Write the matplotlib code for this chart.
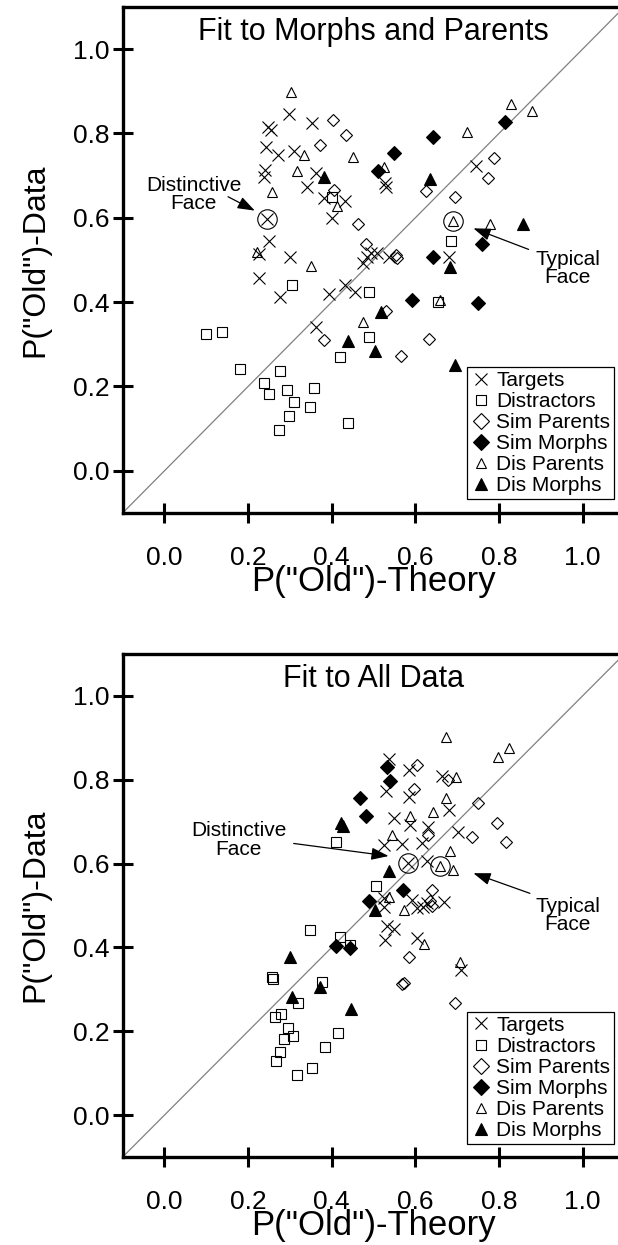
import matplotlib
matplotlib.use('Agg')
import matplotlib.pyplot as plt
from matplotlib.lines import Line2D

plt.rcParams['font.family'] = ['Liberation Sans', 'DejaVu Sans']

categories = ['Targets', 'Distractors', 'Sim Parents', 'Sim Morphs', 'Dis Parents', 'Dis Morphs']

# ---- Fit to Morphs and Parents ----
top_targets_x = [0.298, 0.247, 0.255, 0.353, 0.244, 0.271, 0.309, 0.240, 0.237, 0.362, 0.340,
                 0.382, 0.431, 0.400, 0.245, 0.251, 0.227, 0.300, 0.474, 0.227, 0.527, 0.529,
                 0.744, 0.681, 0.277, 0.394, 0.431, 0.456, 0.362, 0.485, 0.494, 0.509, 0.538]
top_targets_y = [0.845, 0.816, 0.808, 0.824, 0.767, 0.750, 0.758, 0.713, 0.696, 0.707, 0.674,
                 0.646, 0.640, 0.600, 0.596, 0.545, 0.514, 0.506, 0.492, 0.457, 0.682, 0.674,
                 0.723, 0.506, 0.413, 0.419, 0.441, 0.423, 0.342, 0.508, 0.516, 0.516, 0.508]
top_distract_x = [0.400, 0.686, 0.304, 0.490, 0.100, 0.138, 0.490, 0.420, 0.181, 0.277,
                  0.239, 0.249, 0.293, 0.357, 0.310, 0.348, 0.297, 0.275, 0.440, 0.654]
top_distract_y = [0.650, 0.545, 0.441, 0.423, 0.325, 0.329, 0.318, 0.269, 0.242, 0.237,
                  0.208, 0.182, 0.192, 0.197, 0.164, 0.152, 0.131, 0.097, 0.114, 0.401]
top_simpar_x = [0.402, 0.435, 0.372, 0.406, 0.464, 0.482, 0.788, 0.774, 0.625, 0.694,
                0.553, 0.555, 0.381, 0.529, 0.633, 0.565]
top_simpar_y = [0.833, 0.796, 0.773, 0.666, 0.585, 0.537, 0.741, 0.694, 0.663, 0.650,
                0.512, 0.504, 0.310, 0.380, 0.313, 0.273]
top_simmor_x = [0.814, 0.643, 0.548, 0.510, 0.760, 0.643, 0.591, 0.750]
top_simmor_y = [0.828, 0.791, 0.754, 0.712, 0.537, 0.508, 0.404, 0.397]
top_dispar_x = [0.303, 0.333, 0.450, 0.316, 0.256, 0.412, 0.221, 0.350, 0.828, 0.878,
                0.723, 0.524, 0.689, 0.778, 0.474, 0.659]
top_dispar_y = [0.899, 0.750, 0.745, 0.712, 0.662, 0.629, 0.520, 0.486, 0.871, 0.853,
                0.804, 0.721, 0.592, 0.585, 0.354, 0.405]
top_dismor_x = [0.381, 0.634, 0.858, 0.683, 0.440, 0.519, 0.503, 0.695]
top_dismor_y = [0.697, 0.692, 0.585, 0.483, 0.308, 0.376, 0.283, 0.251]

# ---- Fit to All Data ----
bot_targets_x = [0.537, 0.584, 0.530, 0.586, 0.548, 0.588, 0.663, 0.681, 0.631, 0.703,
                 0.526, 0.569, 0.582, 0.524, 0.525, 0.592, 0.604, 0.627, 0.533, 0.548,
                 0.528, 0.604, 0.615, 0.627, 0.669, 0.619, 0.709]
bot_targets_y = [0.850, 0.823, 0.772, 0.760, 0.708, 0.692, 0.809, 0.728, 0.688, 0.676,
                 0.644, 0.647, 0.601, 0.517, 0.496, 0.513, 0.493, 0.505, 0.451, 0.443,
                 0.418, 0.422, 0.648, 0.605, 0.509, 0.497, 0.346]
bot_distract_x = [0.411, 0.506, 0.347, 0.421, 0.444, 0.258, 0.260, 0.377, 0.319, 0.279,
                  0.265, 0.415, 0.296, 0.307, 0.287, 0.383, 0.277, 0.267, 0.353, 0.317]
bot_distract_y = [0.652, 0.547, 0.442, 0.424, 0.406, 0.329, 0.324, 0.318, 0.268, 0.241,
                  0.235, 0.196, 0.207, 0.189, 0.181, 0.163, 0.151, 0.129, 0.113, 0.095]
bot_simpar_x = [0.604, 0.596, 0.678, 0.751, 0.795, 0.631, 0.735, 0.817, 0.641, 0.635,
                0.639, 0.584, 0.568, 0.572, 0.695]
bot_simpar_y = [0.835, 0.777, 0.800, 0.744, 0.696, 0.668, 0.664, 0.651, 0.537, 0.511,
                0.499, 0.378, 0.312, 0.316, 0.267]
bot_simmor_x = [0.533, 0.540, 0.468, 0.482, 0.570, 0.488, 0.411, 0.444]
bot_simmor_y = [0.830, 0.796, 0.757, 0.714, 0.537, 0.511, 0.403, 0.398]
bot_dispar_x = [0.673, 0.798, 0.824, 0.697, 0.673, 0.642, 0.588, 0.545, 0.536, 0.572,
                0.683, 0.659, 0.691, 0.620, 0.707]
bot_dispar_y = [0.903, 0.855, 0.875, 0.806, 0.756, 0.724, 0.714, 0.668, 0.521, 0.489,
                0.630, 0.594, 0.585, 0.408, 0.365]
bot_dismor_x = [0.423, 0.428, 0.536, 0.504, 0.300, 0.371, 0.304, 0.446]
bot_dismor_y = [0.696, 0.690, 0.583, 0.489, 0.376, 0.306, 0.282, 0.252]

# highlighted faces: (distinctive, typical)
top_special_x = [0.245, 0.689]
top_special_y = [0.596, 0.592]
bot_special_x = [0.582, 0.659]
bot_special_y = [0.601, 0.594]

ticks = [0.0, 0.2, 0.4, 0.6, 0.8, 1.0]
tick_labels = ['0.0', '0.2', '0.4', '0.6', '0.8', '1.0']

# marker, face colour, size in plot, size in legend
styles = [('x', 'none', 9.0, 8.0),
          ('s', 'none', 6.5, 7.0),
          ('D', 'none', 6.2, 8.5),
          ('D', 'black', 6.8, 8.5),
          ('^', 'none', 7.5, 7.5),
          ('^', 'black', 8.2, 8.0)]


def draw_panel(ax, xs, ys, title, sx, sy, notes):
    ax.set_xlim(-0.1, 1.1)
    ax.set_ylim(-0.1, 1.1)
    ax.plot([-0.1, 1.1], [-0.1, 1.1], color='#808080', lw=0.9, zorder=1)

    for (mk, fc, ms, _), x, y in zip(styles, xs, ys):
        ax.plot(x, y, ls='none', marker=mk, mfc=fc, mec='black', color='black',
                ms=ms, mew=0.8, zorder=3)
    ax.plot(sx, sy, ls='none', marker='o', mfc='none', mec='black', ms=14, mew=0.8, zorder=3)

    for sp in ax.spines.values():
        sp.set_linewidth(2.4)
    ax.set_xticks(ticks)
    ax.set_yticks(ticks)
    ax.set_xticklabels(tick_labels)
    ax.set_yticklabels(tick_labels)
    ax.tick_params(direction='inout', length=15, width=2.2, labelsize=19)
    ax.tick_params(axis='x', pad=16)
    ax.tick_params(axis='y', pad=2)

    ax.text(0.5, 1.04, title, ha='center', va='center', fontsize=22)
    ax.set_xlabel('P("Old")-Theory', fontsize=25)
    ax.xaxis.set_label_coords(0.5, -0.155)
    ax.xaxis.label.set_va('baseline')
    ax.set_ylabel('P("Old")-Data', fontsize=23)
    ax.yaxis.set_label_coords(-0.175, 0.5)
    ax.yaxis.label.set_va('center')

    for label, (tx, ty), tail, tip in notes:
        ax.text(tx, ty, label, ha='center', va='center', fontsize=15, linespacing=0.95)
        ax.annotate('', xy=tip, xytext=tail,
                    arrowprops=dict(arrowstyle='-|>,head_length=0.7,head_width=0.25',
                                    mutation_scale=15, color='black', lw=0.9,
                                    shrinkA=0, shrinkB=0))

    handles = [Line2D([], [], ls='none', marker=mk, mfc=fc, mec='black', ms=lms, mew=0.8)
               for mk, fc, _, lms in styles]
    leg = ax.legend(handles, categories, loc='upper left', bbox_to_anchor=(0.686, 0.289),
                    borderaxespad=0, fontsize=15, frameon=True, fancybox=False,
                    edgecolor='black', framealpha=1, borderpad=0.2, handlelength=1.0,
                    handletextpad=0.2, labelspacing=0.1)
    leg.get_frame().set_linewidth(0.9)


fig = plt.figure(figsize=(6.18, 12.45), dpi=100)
ax1 = fig.add_axes([0.1985, 0.5880, 0.8118, 0.4064])
ax2 = fig.add_axes([0.1985, 0.0707, 0.8118, 0.4040])

draw_panel(ax1,
           [top_targets_x, top_distract_x, top_simpar_x, top_simmor_x, top_dispar_x, top_dismor_x],
           [top_targets_y, top_distract_y, top_simpar_y, top_simmor_y, top_dispar_y, top_dismor_y],
           'Fit to Morphs and Parents', top_special_x, top_special_y,
           [('Distinctive\nFace', (0.070, 0.656), (0.152, 0.650), (0.216, 0.617)),
            ('Typical\nFace', (0.965, 0.479), (0.871, 0.525), (0.739, 0.575))])

draw_panel(ax2,
           [bot_targets_x, bot_distract_x, bot_simpar_x, bot_simmor_x, bot_dispar_x, bot_dismor_x],
           [bot_targets_y, bot_distract_y, bot_simpar_y, bot_simmor_y, bot_dispar_y, bot_dismor_y],
           'Fit to All Data', bot_special_x, bot_special_y,
           [('Distinctive\nFace', (0.177, 0.656), (0.309, 0.648), (0.536, 0.618)),
            ('Typical\nFace', (0.965, 0.477), (0.874, 0.529), (0.739, 0.577))])

fig.savefig('out.png', dpi=100)
